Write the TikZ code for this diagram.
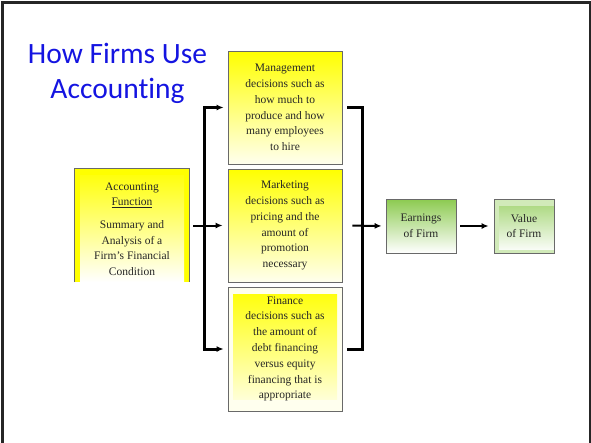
\documentclass[tikz,border=0pt]{standalone}
\usepackage{fontspec}
\setmainfont{Liberation Serif}
\newfontfamily\titlefont[Ligatures=NoCommon]{Carlito}
\usetikzlibrary{arrows.meta,calc}
\definecolor{titleblue}{RGB}{20,20,225}
\definecolor{boxyellow}{RGB}{255,255,0}
\definecolor{paleyellow}{RGB}{255,255,238}
\definecolor{leafgreen}{RGB}{140,202,80}
\definecolor{edgegray}{RGB}{105,105,105}
\begin{document}
\begin{tikzpicture}[x=1pt,y=-1pt,
  vshade/.style 2 args={top color=#1, bottom color=#2},
  % fill the inside of a node with a vertical gradient, inset by the given margins
  gradfill/.style n args={6}{path picture={\fill[vshade={#1}{#2}]
    ($(path picture bounding box.north west)+(#3,#4)$) rectangle
    ($(path picture bounding box.south east)+(#5,#6)$);}},
  box/.style={draw=edgegray, line width=0.8pt, inner sep=0pt, align=center,
    font=\fontsize{11.5}{15.8}\selectfont, text=black!85},
  ybox/.style={box, gradfill={boxyellow}{paleyellow}{0}{0}{0}{0}},
  gbox/.style={box, gradfill={leafgreen}{white}{0}{0}{0}{0}},
  flow/.style={line width=2pt, -{Latex[length=7pt,width=6pt]}},
  brace/.style={line width=3pt},
  titletext/.style={font=\titlefont\fontsize{29.5}{35}\selectfont, text=titleblue, anchor=base}]
\useasboundingbox (0,0) rectangle (591,442);
\clip (0,0) rectangle (591,442);
\fill[white] (0,0) rectangle (591,442);
% slide frame
\draw[line width=3pt, black!85] (2.5,460) -- (2.5,2.5) -- (590,2.5) -- (590,460);

% title
\node[titletext] (title1) at (117.5,63) {How Firms Use};
\node[titletext] (title2) at (117.5,98) {Accounting};

% accounting function box (open at the bottom)
\node[inner sep=0pt, minimum width=114, minimum height=113, fill=boxyellow,
  gradfill={boxyellow}{white}{5}{6}{-5}{0}]
  (acc) at (132,225.5) {};
\draw[edgegray, line width=0.8pt] (acc.south west) -- (acc.north west) -- (acc.north east) -- (acc.south east);
\node[align=center, font=\fontsize{11.5}{15.5}\selectfont, text=black!85] (acctext) at (132,229)
  {Accounting\\\underline{Function}\\[7.5pt]Summary and\\Analysis of a\\Firm’s Financial\\Condition};

% decision boxes
\node[ybox, minimum width=114, minimum height=113] (mgmt) at (285,107.5)
  {Management\\decisions such as\\how much to\\produce and how\\many employees\\to hire};
\node[ybox, minimum width=114, minimum height=113] (mkt) at (285,225.5)
  {Marketing\\decisions such as\\pricing and the\\amount of\\promotion\\necessary};
\node[box, minimum width=114, minimum height=124, fill=paleyellow,
  gradfill={boxyellow}{paleyellow}{5}{7}{-5}{-12}]
  (fin) at (285,349)
  {Finance\\decisions such as\\the amount of\\debt financing\\versus equity\\financing that is\\appropriate};

% outcome boxes
\node[gbox, minimum width=70, minimum height=54] (earn) at (421,226) {Earnings\\of Firm};
\node[box, minimum width=60, minimum height=54, fill=leafgreen!40,
  gradfill={leafgreen!80}{white}{5}{7}{0}{-4}]
  (value) at (524,226) {Value\\of Firm};

% connectors
\coordinate (lx) at (204,0);
\coordinate (rx) at (362,0);
\draw[brace, {Latex[length=7pt,width=6pt]}-{Latex[length=7pt,width=6pt]}, shorten <=4pt, shorten >=4pt]
  (mgmt.west) -- (mgmt.west -| lx) -- (fin.west -| lx) -- (fin.west);
\draw[flow, shorten <=4pt, shorten >=5pt] (acc.east) -- (mkt.west);
\draw[brace, shorten <=5pt, shorten >=5pt]
  (mgmt.east) -- (mgmt.east -| rx) -- (fin.east -| rx) -- (fin.east);
\draw[flow, shorten <=10pt, shorten >=4pt] (mkt.east) -- (earn.west);
\draw[flow, shorten <=4pt, shorten >=5pt] (earn.east) -- (value.west);
\end{tikzpicture}
\end{document}
